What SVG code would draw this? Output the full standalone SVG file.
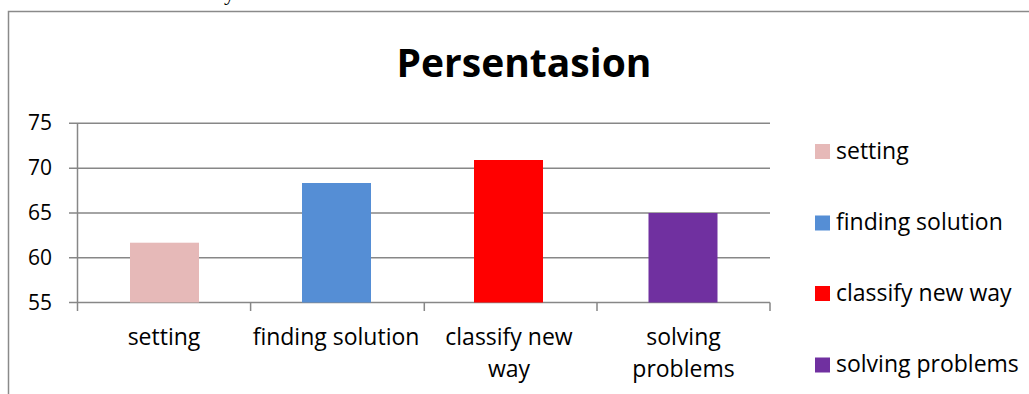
<svg xmlns="http://www.w3.org/2000/svg" width="1029" height="394" viewBox="0 0 1029 394">
<style>
.t{font-family:"Open Sans","Noto Sans",sans-serif;fill:#000}
.ax{font-size:21px;text-anchor:end}
.cat{font-size:23px;text-anchor:middle}
.leg{font-size:23px}
.grid{stroke:#878787;stroke-width:1.5;fill:none}
</style>
<rect width="1029" height="394" fill="#fff"/>
<text x="224" y="0" style="font-family:'Liberation Serif',serif;font-size:22px">y</text>
<g id="frame"><path d="M8.5 394 V11.5 H1029" stroke="#8a8a8a" stroke-width="1.5" fill="none"/></g>
<g id="title"><text class="t" x="524" y="77" text-anchor="middle" style="font-size:39px;font-weight:bold">Persentasion</text></g>
<g id="grid">
<path class="grid" d="M69 123.3H770M69 168.2H770M69 213H770M69 257.8H770M69 302.5H770"/>
<path class="grid" d="M77.5 123.3V311M250.6 302.5V311M424.3 302.5V311M597 302.5V311M770 302.5V311"/>
</g>
<g id="yaxis">
<text class="t ax" x="52" y="130.3">75</text>
<text class="t ax" x="52" y="175.2">70</text>
<text class="t ax" x="52" y="220">65</text>
<text class="t ax" x="52" y="264.8">60</text>
<text class="t ax" x="52" y="309.5">55</text>
</g>
<g id="bars">
<rect id="bar-setting" x="130" y="242.7" width="69" height="59.8" fill="#E6B9B8"/>
<rect id="bar-finding" x="302" y="183" width="69" height="119.5" fill="#558ED5"/>
<rect id="bar-classify" x="474" y="160" width="69" height="142.5" fill="#FF0000"/>
<rect id="bar-solving" x="648.5" y="213" width="69" height="89.5" fill="#7030A0"/>
</g>
<g id="categories">
<text class="t cat" x="164" y="345">setting</text>
<text class="t cat" x="336" y="345">finding solution</text>
<text class="t cat" x="509" y="345">classify new</text>
<text class="t cat" x="509" y="377">way</text>
<text class="t cat" x="683.5" y="345">solving</text>
<text class="t cat" x="683.5" y="377">problems</text>
</g>
<g id="legend">
<g id="leg-setting"><rect x="815" y="144" width="15" height="15" fill="#E6B9B8"/><text class="t leg" x="836" y="159">setting</text></g>
<g id="leg-finding"><rect x="815" y="215.5" width="15" height="15" fill="#558ED5"/><text class="t leg" x="836" y="230">finding solution</text></g>
<g id="leg-classify"><rect x="815" y="286" width="15" height="15" fill="#FF0000"/><text class="t leg" x="836" y="301">classify new way</text></g>
<g id="leg-solving"><rect x="815" y="357.5" width="15" height="15" fill="#7030A0"/><text class="t leg" x="836" y="372">solving problems</text></g>
</g>
</svg>
